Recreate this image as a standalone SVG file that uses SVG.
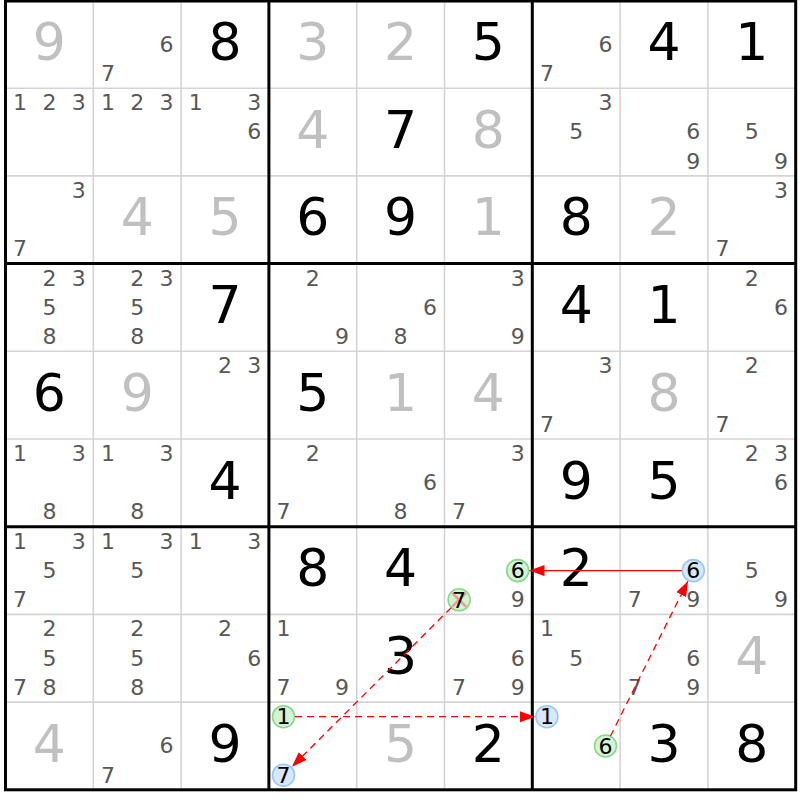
<svg xmlns="http://www.w3.org/2000/svg" width="800" height="800" viewBox="0 0 800 800">
<defs>
<style>
text{font-family:"DejaVu Sans","Liberation Sans",sans-serif;text-anchor:middle}
.g{font-size:52px;fill:#000}
.s{font-size:52px;fill:#c0c0c0}
.c{font-size:22px;fill:#585858}
.k{font-size:22px;fill:#000}
.thin{stroke:#d4d4d4;stroke-width:1.6}
.thick{stroke:#000;stroke-width:3}
.cg{fill:#d4f2d4;stroke:#88d888;stroke-width:1.6}
.cb{fill:#d8e8fa;stroke:#98c8f4;stroke-width:1.6}
.ar{stroke:#ff0000;stroke-width:1.3;fill:none}
.d{stroke-dasharray:7,5}
</style>
<marker id="ah" markerUnits="userSpaceOnUse" markerWidth="16" markerHeight="12" refX="15" refY="5.5" orient="auto">
<path d="M0,0 L15,5.5 L0,11 z" fill="#ff0000"/>
</marker>
</defs>
<rect x="0" y="0" width="800" height="800" fill="#fff"/>
<g id="grid">
<g class="thin">
<line x1="93.3" y1="0.5" x2="93.3" y2="789.8"/>
<line x1="181.1" y1="0.5" x2="181.1" y2="789.8"/>
<line x1="356.7" y1="0.5" x2="356.7" y2="789.8"/>
<line x1="444.5" y1="0.5" x2="444.5" y2="789.8"/>
<line x1="620.1" y1="0.5" x2="620.1" y2="789.8"/>
<line x1="707.9" y1="0.5" x2="707.9" y2="789.8"/>
<line x1="5.5" y1="88.2" x2="795.7" y2="88.2"/>
<line x1="5.5" y1="175.9" x2="795.7" y2="175.9"/>
<line x1="5.5" y1="351.3" x2="795.7" y2="351.3"/>
<line x1="5.5" y1="439" x2="795.7" y2="439"/>
<line x1="5.5" y1="614.4" x2="795.7" y2="614.4"/>
<line x1="5.5" y1="702.1" x2="795.7" y2="702.1"/>
</g>
<g class="thick">
<line x1="268.9" y1="0.5" x2="268.9" y2="789.8"/>
<line x1="532.3" y1="0.5" x2="532.3" y2="789.8"/>
<line x1="5.5" y1="263.6" x2="795.7" y2="263.6"/>
<line x1="5.5" y1="526.7" x2="795.7" y2="526.7"/>
<rect x="5.5" y="1" width="790.2" height="788.8" fill="none"/>
</g>
</g>
<g id="cells">
<g id="r0c0"><text class="s" x="49.4" y="60">9</text></g>
<g id="r0c1"><text class="c" x="166.5" y="51.7">6</text><text class="c" x="107.9" y="80.9">7</text></g>
<g id="r0c2"><text class="g" x="225" y="60">8</text></g>
<g id="r0c3"><text class="s" x="312.8" y="60">3</text></g>
<g id="r0c4"><text class="s" x="400.6" y="60">2</text></g>
<g id="r0c5"><text class="g" x="488.4" y="60">5</text></g>
<g id="r0c6"><text class="c" x="605.5" y="51.7">6</text><text class="c" x="546.9" y="80.9">7</text></g>
<g id="r0c7"><text class="g" x="664" y="60">4</text></g>
<g id="r0c8"><text class="g" x="751.8" y="60">1</text></g>

<g id="r1c0"><text class="c" x="20.1" y="110.1">1</text><text class="c" x="49.4" y="110.1">2</text><text class="c" x="78.7" y="110.1">3</text></g>
<g id="r1c1"><text class="c" x="107.9" y="110.1">1</text><text class="c" x="137.2" y="110.1">2</text><text class="c" x="166.5" y="110.1">3</text></g>
<g id="r1c2"><text class="c" x="195.7" y="110.1">1</text><text class="c" x="254.3" y="110.1">3</text><text class="c" x="254.3" y="139.4">6</text></g>
<g id="r1c3"><text class="s" x="312.8" y="147.7">4</text></g>
<g id="r1c4"><text class="g" x="400.6" y="147.7">7</text></g>
<g id="r1c5"><text class="s" x="488.4" y="147.7">8</text></g>
<g id="r1c6"><text class="c" x="605.5" y="110.1">3</text><text class="c" x="576.2" y="139.4">5</text></g>
<g id="r1c7"><text class="c" x="693.3" y="139.4">6</text><text class="c" x="693.3" y="168.6">9</text></g>
<g id="r1c8"><text class="c" x="751.8" y="139.4">5</text><text class="c" x="781.1" y="168.6">9</text></g>

<g id="r2c0"><text class="c" x="78.7" y="197.8">3</text><text class="c" x="20.1" y="256.3">7</text></g>
<g id="r2c1"><text class="s" x="137.2" y="235.4">4</text></g>
<g id="r2c2"><text class="s" x="225" y="235.4">5</text></g>
<g id="r2c3"><text class="g" x="312.8" y="235.4">6</text></g>
<g id="r2c4"><text class="g" x="400.6" y="235.4">9</text></g>
<g id="r2c5"><text class="s" x="488.4" y="235.4">1</text></g>
<g id="r2c6"><text class="g" x="576.2" y="235.4">8</text></g>
<g id="r2c7"><text class="s" x="664" y="235.4">2</text></g>
<g id="r2c8"><text class="c" x="781.1" y="197.8">3</text><text class="c" x="722.5" y="256.3">7</text></g>

<g id="r3c0"><text class="c" x="49.4" y="285.5">2</text><text class="c" x="78.7" y="285.5">3</text><text class="c" x="49.4" y="314.8">5</text><text class="c" x="49.4" y="344">8</text></g>
<g id="r3c1"><text class="c" x="137.2" y="285.5">2</text><text class="c" x="166.5" y="285.5">3</text><text class="c" x="137.2" y="314.8">5</text><text class="c" x="137.2" y="344">8</text></g>
<g id="r3c2"><text class="g" x="225" y="323.1">7</text></g>
<g id="r3c3"><text class="c" x="312.8" y="285.5">2</text><text class="c" x="342.1" y="344">9</text></g>
<g id="r3c4"><text class="c" x="429.9" y="314.8">6</text><text class="c" x="400.6" y="344">8</text></g>
<g id="r3c5"><text class="c" x="517.7" y="285.5">3</text><text class="c" x="517.7" y="344">9</text></g>
<g id="r3c6"><text class="g" x="576.2" y="323.1">4</text></g>
<g id="r3c7"><text class="g" x="664" y="323.1">1</text></g>
<g id="r3c8"><text class="c" x="751.8" y="285.5">2</text><text class="c" x="781.1" y="314.8">6</text></g>

<g id="r4c0"><text class="g" x="49.4" y="410.8">6</text></g>
<g id="r4c1"><text class="s" x="137.2" y="410.8">9</text></g>
<g id="r4c2"><text class="c" x="225" y="373.2">2</text><text class="c" x="254.3" y="373.2">3</text></g>
<g id="r4c3"><text class="g" x="312.8" y="410.8">5</text></g>
<g id="r4c4"><text class="s" x="400.6" y="410.8">1</text></g>
<g id="r4c5"><text class="s" x="488.4" y="410.8">4</text></g>
<g id="r4c6"><text class="c" x="605.5" y="373.2">3</text><text class="c" x="546.9" y="431.7">7</text></g>
<g id="r4c7"><text class="s" x="664" y="410.8">8</text></g>
<g id="r4c8"><text class="c" x="751.8" y="373.2">2</text><text class="c" x="722.5" y="431.7">7</text></g>

<g id="r5c0"><text class="c" x="20.1" y="460.9">1</text><text class="c" x="78.7" y="460.9">3</text><text class="c" x="49.4" y="519.4">8</text></g>
<g id="r5c1"><text class="c" x="107.9" y="460.9">1</text><text class="c" x="166.5" y="460.9">3</text><text class="c" x="137.2" y="519.4">8</text></g>
<g id="r5c2"><text class="g" x="225" y="498.5">4</text></g>
<g id="r5c3"><text class="c" x="312.8" y="460.9">2</text><text class="c" x="283.5" y="519.4">7</text></g>
<g id="r5c4"><text class="c" x="429.9" y="490.2">6</text><text class="c" x="400.6" y="519.4">8</text></g>
<g id="r5c5"><text class="c" x="517.7" y="460.9">3</text><text class="c" x="459.1" y="519.4">7</text></g>
<g id="r5c6"><text class="g" x="576.2" y="498.5">9</text></g>
<g id="r5c7"><text class="g" x="664" y="498.5">5</text></g>
<g id="r5c8"><text class="c" x="751.8" y="460.9">2</text><text class="c" x="781.1" y="460.9">3</text><text class="c" x="781.1" y="490.2">6</text></g>

<g id="r6c0"><text class="c" x="20.1" y="548.6">1</text><text class="c" x="78.7" y="548.6">3</text><text class="c" x="49.4" y="577.9">5</text><text class="c" x="20.1" y="607.1">7</text></g>
<g id="r6c1"><text class="c" x="107.9" y="548.6">1</text><text class="c" x="166.5" y="548.6">3</text><text class="c" x="137.2" y="577.9">5</text></g>
<g id="r6c2"><text class="c" x="195.7" y="548.6">1</text><text class="c" x="254.3" y="548.6">3</text></g>
<g id="r6c3"><text class="g" x="312.8" y="586.2">8</text></g>
<g id="r6c4"><text class="g" x="400.6" y="586.2">4</text></g>
<g id="r6c5">
<circle class="cg" cx="517.7" cy="570.6" r="11"/><text class="k" x="517.7" y="578.3">6</text>
<circle class="cg" cx="459.1" cy="599.8" r="11"/>
<path d="M452.3,593 L465.9,606.6 M465.9,593 L452.3,606.6" stroke="#ff5a5a" stroke-opacity="0.55" stroke-width="2.6"/>
<text class="k" x="459.1" y="607.5">7</text>
<text class="c" x="517.7" y="607.1">9</text></g>
<g id="r6c6"><text class="g" x="576.2" y="586.2">2</text></g>
<g id="r6c7"><circle class="cb" cx="693.3" cy="570.6" r="11"/><text class="k" x="693.3" y="578.3">6</text><text class="c" x="634.7" y="607.1">7</text><text class="c" x="693.3" y="607.1">9</text></g>
<g id="r6c8"><text class="c" x="751.8" y="577.9">5</text><text class="c" x="781.1" y="607.1">9</text></g>

<g id="r7c0"><text class="c" x="49.4" y="636.3">2</text><text class="c" x="49.4" y="665.6">5</text><text class="c" x="20.1" y="694.8">7</text><text class="c" x="49.4" y="694.8">8</text></g>
<g id="r7c1"><text class="c" x="137.2" y="636.3">2</text><text class="c" x="137.2" y="665.6">5</text><text class="c" x="137.2" y="694.8">8</text></g>
<g id="r7c2"><text class="c" x="225" y="636.3">2</text><text class="c" x="254.3" y="665.6">6</text></g>
<g id="r7c3"><text class="c" x="283.5" y="636.3">1</text><text class="c" x="283.5" y="694.8">7</text><text class="c" x="342.1" y="694.8">9</text></g>
<g id="r7c4"><text class="g" x="400.6" y="673.9">3</text></g>
<g id="r7c5"><text class="c" x="517.7" y="665.6">6</text><text class="c" x="459.1" y="694.8">7</text><text class="c" x="517.7" y="694.8">9</text></g>
<g id="r7c6"><text class="c" x="546.9" y="636.3">1</text><text class="c" x="576.2" y="665.6">5</text></g>
<g id="r7c7"><text class="c" x="693.3" y="665.6">6</text><text class="c" x="634.7" y="694.8">7</text><text class="c" x="693.3" y="694.8">9</text></g>
<g id="r7c8"><text class="s" x="751.8" y="673.9">4</text></g>

<g id="r8c0"><text class="s" x="49.4" y="761.6">4</text></g>
<g id="r8c1"><text class="c" x="166.5" y="753.3">6</text><text class="c" x="107.9" y="782.5">7</text></g>
<g id="r8c2"><text class="g" x="225" y="761.6">9</text></g>
<g id="r8c3"><circle class="cg" cx="283.5" cy="716.7" r="11"/><text class="k" x="283.5" y="724.4">1</text><circle class="cb" cx="283.5" cy="775.2" r="11"/><text class="k" x="283.5" y="782.9">7</text></g>
<g id="r8c4"><text class="s" x="400.6" y="761.6">5</text></g>
<g id="r8c5"><text class="g" x="488.4" y="761.6">2</text></g>
<g id="r8c6"><circle class="cb" cx="546.9" cy="716.7" r="11"/><text class="k" x="546.9" y="724.4">1</text><circle class="cg" cx="605.5" cy="746" r="11"/><text class="k" x="605.5" y="753.7">6</text></g>
<g id="r8c7"><text class="g" x="664" y="761.6">3</text></g>
<g id="r8c8"><text class="g" x="751.8" y="761.6">8</text></g>
</g>
<g id="connectors">
<line class="ar" x1="681.8" y1="570.6" x2="529.5" y2="570.6" marker-end="url(#ah)"/>
<line class="ar d" x1="610.4" y1="736.2" x2="687.9" y2="581.3" marker-end="url(#ah)"/>
<line class="ar d" x1="295" y1="716.7" x2="535" y2="716.7" marker-end="url(#ah)"/>
<line class="ar d" x1="451.3" y1="607.6" x2="292" y2="766.7" marker-end="url(#ah)"/>
</g>
</svg>
